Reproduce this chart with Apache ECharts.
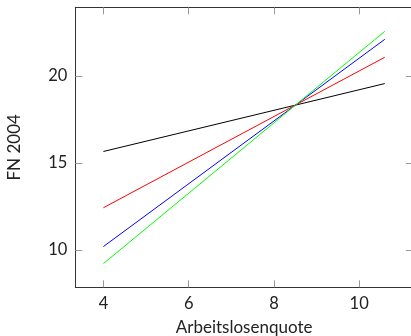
<!DOCTYPE html>
<html><head><meta charset="utf-8">
<script src="https://cdn.jsdelivr.net/npm/echarts@6/dist/echarts.min.js"></script>
<style>html,body{margin:0;padding:0;background:#fff}#c{width:411px;height:336px}</style>
</head><body><div id="c"></div>
<script>
const xValues = [4, 10.6];
const blackValues = [15.66, 19.56];
const redValues = [12.43, 21.07];
const blueValues = [10.20, 22.10];
const greenValues = [9.22, 22.56];
const xTicks = [4, 6, 8, 10];
const yTicks = [10, 15, 20];
const xTitle = 'Arbeitslosenquote';
const yTitle = 'FN 2004';

const font = 'Lato, "Open Sans", sans-serif';
const pair = v => xValues.map((x, i) => [x, v[i]]);
const mk = (name, v, color) => ({
  name, type: 'line', data: pair(v), showSymbol: false, symbol: 'none',
  lineStyle: { color, width: 1 }, animation: false, z: 3
});
const xRange = { min: 3.34, max: 11.26 };
const yRange = { min: 7.86, max: 23.94 };
const tickStyle = { show: true, inside: true, length: 7, lineStyle: { color: '#999', width: 1 } };
const lineStyle = { show: true, onZero: false, lineStyle: { color: '#333', width: 1 } };

const chart = echarts.init(document.getElementById('c'), null, { renderer: 'canvas' });
chart.setOption({
  animation: false,
  grid: { left: 75.3, top: 7.3, width: 337.6, height: 280, containLabel: false, outerBoundsMode: 'none' },
  xAxis: [
    { type: 'value', position: 'bottom', ...xRange, axisLine: lineStyle,
      axisTick: { ...tickStyle, customValues: xTicks },
      axisLabel: { customValues: xTicks, color: '#222', fontFamily: font, fontSize: 16.5, margin: 8 },
      splitLine: { show: false },
      name: xTitle, nameLocation: 'middle', nameGap: 32,
      nameTextStyle: { color: '#222', fontFamily: font, fontSize: 17 } },
    { type: 'value', position: 'top', ...xRange, axisLine: lineStyle,
      axisTick: { ...tickStyle, customValues: xTicks },
      axisLabel: { show: false }, splitLine: { show: false } }
  ],
  yAxis: [
    { type: 'value', position: 'left', ...yRange, axisLine: lineStyle,
      axisTick: { ...tickStyle, customValues: yTicks },
      axisLabel: { customValues: yTicks, color: '#222', fontFamily: font, fontSize: 16.5, margin: 8 },
      splitLine: { show: false },
      name: yTitle, nameLocation: 'middle', nameGap: 52, nameRotate: 90,
      nameTextStyle: { color: '#222', fontFamily: font, fontSize: 17 } },
    { type: 'value', position: 'right', ...yRange, axisLine: lineStyle,
      axisTick: { ...tickStyle, customValues: yTicks },
      axisLabel: { show: false }, splitLine: { show: false } }
  ],
  series: [
    mk('black', blackValues, '#000000'),
    mk('red', redValues, '#ff0000'),
    mk('blue', blueValues, '#0000ff'),
    mk('green', greenValues, '#00ff00')
  ]
});
</script></body></html>
